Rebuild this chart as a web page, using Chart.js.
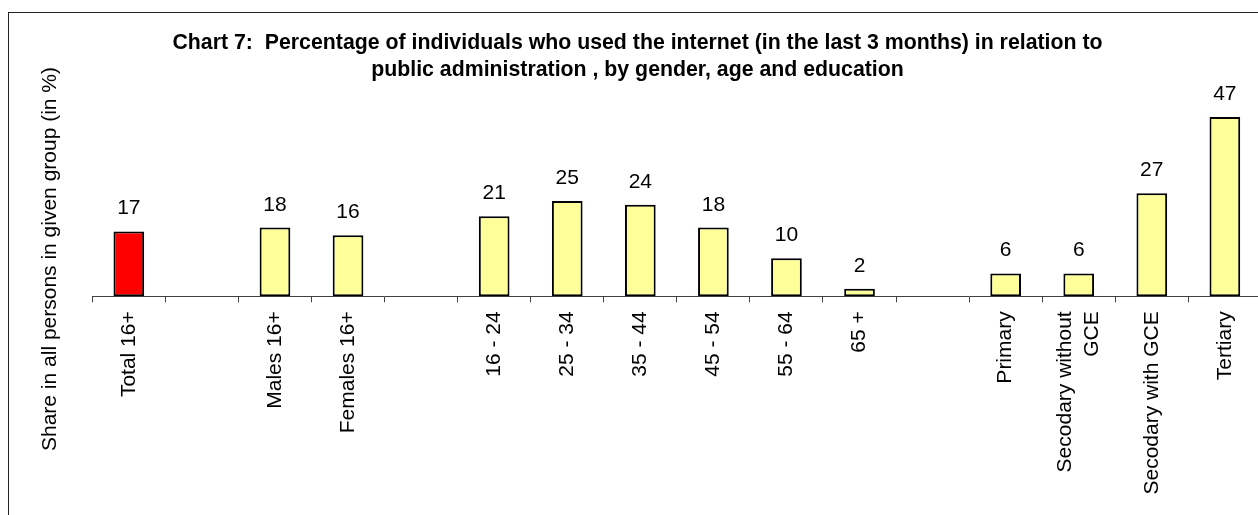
<!DOCTYPE html>
<html>
<head>
<meta charset="utf-8">
<title>Chart 7</title>
<script src="https://cdn.jsdelivr.net/npm/chart.js@4/dist/chart.umd.min.js"></script>
<style>
  html, body { margin: 0; padding: 0; background: #fff; overflow: hidden; }
  canvas { display: block; }
</style>
</head>
<body>
<canvas id="chart" width="1268" height="515"></canvas>
<script>
// categories ('' = gap between groups, '\n' = line break)
const categories = [
  'Total 16+', '', 'Males 16+', 'Females 16+', '',
  '16 - 24', '25 - 34', '35 - 44', '45 - 54', '55 - 64', '65 +', '',
  'Primary', 'Secodary without\nGCE', 'Secodary with GCE', 'Tertiary'
];
// share in %, null for the gaps
const values = [17, null, 18, 16, null, 21, 25, 24, 18, 10, 2, null, 6, 6, 27, 47];

const titleLines = [
  'Chart 7:  Percentage of individuals who used the internet (in the last 3 months) in relation to',
  'public administration , by gender, age and education'
];
const yTitle = 'Share in all persons in given group (in %)';

const FONT = '"Liberation Sans", Arial, sans-serif';

// frame, value labels, category labels and titles
const textPlugin = {
  id: 'texts',
  beforeDraw(chart) {
    const ctx = chart.ctx;
    ctx.save();
    ctx.fillStyle = '#fff';
    ctx.fillRect(0, 0, chart.width, chart.height);
    ctx.strokeStyle = '#222';
    ctx.lineWidth = 1;
    ctx.strokeRect(8.5, 12.5, 2000, 2000);
    ctx.restore();
  },
  afterDatasetsDraw(chart) {
    const ctx = chart.ctx;
    const xScale = chart.scales.x;
    const meta = chart.getDatasetMeta(0);
    ctx.save();
    ctx.fillStyle = '#000';

    // values above bars
    ctx.font = '21px ' + FONT;
    ctx.textAlign = 'center';
    ctx.textBaseline = 'alphabetic';
    meta.data.forEach((bar, i) => {
      if (values[i] == null) return;
      ctx.fillText(String(values[i]), bar.x, bar.y - 17);
    });

    // rotated category labels
    categories.forEach((label, i) => {
      if (!label) return;
      const lines = label.split('\n');
      const cx = xScale.getPixelForValue(i);
      lines.forEach((line, j) => {
        ctx.save();
        ctx.translate(cx + (j - (lines.length - 1) / 2) * 27, xScale.top + 15);
        ctx.rotate(-Math.PI / 2);
        ctx.textAlign = 'right';
        ctx.textBaseline = 'middle';
        ctx.fillText(line, 0, 0);
        ctx.restore();
      });
    });

    // y axis title
    ctx.save();
    ctx.translate(56, 259);
    ctx.rotate(-Math.PI / 2);
    ctx.textAlign = 'center';
    ctx.textBaseline = 'alphabetic';
    ctx.fillText(yTitle, 0, 0);
    ctx.restore();

    // chart title
    ctx.font = 'bold 21.3px ' + FONT;
    ctx.textAlign = 'center';
    ctx.textBaseline = 'alphabetic';
    titleLines.forEach((line, j) => {
      ctx.fillText(line, 637.5, 48.5 + j * 27);
    });
    ctx.restore();
  }
};

new Chart(document.getElementById('chart'), {
  type: 'bar',
  data: {
    labels: categories,
    datasets: [{
      data: values,
      backgroundColor: ctx => ctx.dataIndex === 0 ? '#ff0000' : '#ffff99',
      borderColor: '#000',
      borderWidth: 2,
      borderSkipped: false,
      barPercentage: 0.42,
      categoryPercentage: 1
    }]
  },
  options: {
    responsive: false,
    animation: false,
    layout: {
      padding: { left: 92.3, right: 6.6, top: 105.5, bottom: 0 }
    },
    plugins: {
      legend: { display: false },
      title: { display: false },
      tooltip: { enabled: false }
    },
    scales: {
      x: {
        offset: true,
        grid: {
          offset: true,
          drawOnChartArea: false,
          drawTicks: true,
          tickLength: 6,
          color: '#404040'
        },
        border: { display: true, color: '#404040', width: 1 },
        ticks: { display: false },
        afterFit(scale) { scale.height = 515 - 296.3; }
      },
      y: {
        display: false,
        min: 0,
        max: 50
      }
    }
  },
  plugins: [textPlugin]
});
</script>
</body>
</html>
